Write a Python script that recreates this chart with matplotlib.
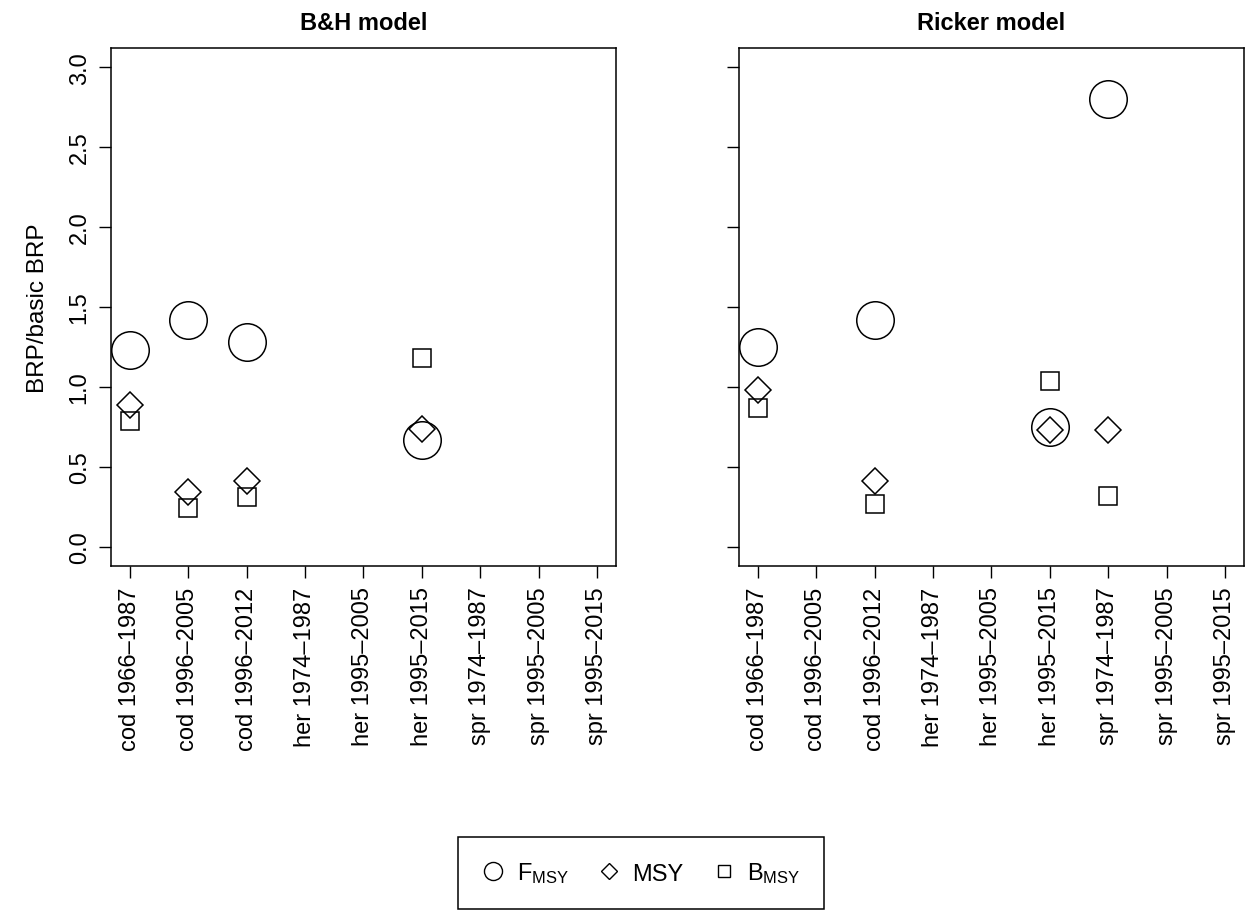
import numpy as np
import matplotlib
matplotlib.use("Agg")
import matplotlib.pyplot as plt
from matplotlib.lines import Line2D

plt.rcParams['font.family'] = ['Liberation Sans', 'DejaVu Sans']
plt.rcParams['mathtext.fontset'] = 'custom'
plt.rcParams['mathtext.rm'] = 'Liberation Sans'
plt.rcParams['mathtext.it'] = 'Liberation Sans'

stocks = ["cod 1966\u20131987", "cod 1996\u20132005", "cod 1996\u20132012",
          "her 1974\u20131987", "her 1995\u20132005", "her 1995\u20132015",
          "spr 1974\u20131987", "spr 1995\u20132005", "spr 1995\u20132015"]
nan = np.nan

# B&H model
bh_fmsy = [1.23, 1.42, 1.28, nan, nan, 0.67, nan, nan, nan]
bh_msy = [0.89, 0.34, 0.41, nan, nan, 0.74, nan, nan, nan]
bh_bmsy = [0.79, 0.24, 0.31, nan, nan, 1.18, nan, nan, nan]

# Ricker model
rk_fmsy = [1.25, nan, 1.42, nan, nan, 0.75, 2.80, nan, nan]
rk_msy = [0.98, nan, 0.41, nan, nan, 0.73, 0.73, nan, nan]
rk_bmsy = [0.87, nan, 0.27, nan, nan, 1.04, 0.32, nan, nan]

W, H = 1246, 920
fig = plt.figure(figsize=(W / 100, H / 100), dpi=100)

def px_axes(x0, x1, y0, y1):
    return fig.add_axes([x0 / W, 1 - y1 / H, (x1 - x0) / W, (y1 - y0) / H])

ax1 = px_axes(111, 616, 49, 567)
ax2 = px_axes(739, 1244, 49, 567)

fs = 17
x = np.arange(1, len(stocks) + 1)

def panel(ax, fmsy, msy, bmsy, title, show_y):
    kw = dict(linestyle='none', color='black', markerfacecolor='none', markeredgewidth=1.1)
    ax.plot(x, fmsy, marker='o', markersize=27, **kw)
    ax.plot(x, msy, marker='D', markersize=13.5, **kw)
    ax.plot(x, bmsy, marker='s', markersize=13.5, **kw)
    ax.set_xlim(1 - 0.32, 9 + 0.32)
    ax.set_ylim(-0.12, 3.12)
    ax.set_xticks(x)
    ax.set_xticklabels(stocks, rotation=90, fontsize=fs)
    ax.set_yticks(np.arange(0, 3.01, 0.5))
    if show_y:
        ax.set_yticklabels(["%.1f" % v for v in np.arange(0, 3.01, 0.5)],
                           rotation=90, va='center', fontsize=fs)
        ax.set_ylabel("BRP/basic BRP", fontsize=fs + 0.5, labelpad=14)
    else:
        ax.set_yticklabels([])
    ax.tick_params(length=8.6, width=1.0, pad=6, direction='out')
    for s in ax.spines.values():
        s.set_linewidth(1.1)
    ax.set_title(title, fontsize=fs, fontweight='bold', pad=14)

panel(ax1, bh_fmsy, bh_msy, bh_bmsy, "B&H model", True)
panel(ax2, rk_fmsy, rk_msy, rk_bmsy, "Ricker model", False)

handles = [
    Line2D([], [], linestyle='none', marker='o', markersize=13, color='black',
           markerfacecolor='none', markeredgewidth=1.0),
    Line2D([], [], linestyle='none', marker='D', markersize=8, color='black',
           markerfacecolor='none', markeredgewidth=1.0),
    Line2D([], [], linestyle='none', marker='s', markersize=8, color='black',
           markerfacecolor='none', markeredgewidth=1.0),
]
labels = [r"F$_{\mathrm{MSY}}$", "MSY", r"B$_{\mathrm{MSY}}$"]
leg = fig.legend(handles, labels, loc='center', ncol=3, fontsize=fs,
                 bbox_to_anchor=(641 / W, 1 - 874 / H), frameon=True,
                 fancybox=False, edgecolor='black', framealpha=1,
                 handlelength=1.0, handletextpad=0.5, columnspacing=1.2,
                 borderpad=1.0)
leg.get_frame().set_linewidth(1.1)

fig.savefig("out.png", dpi=100)
